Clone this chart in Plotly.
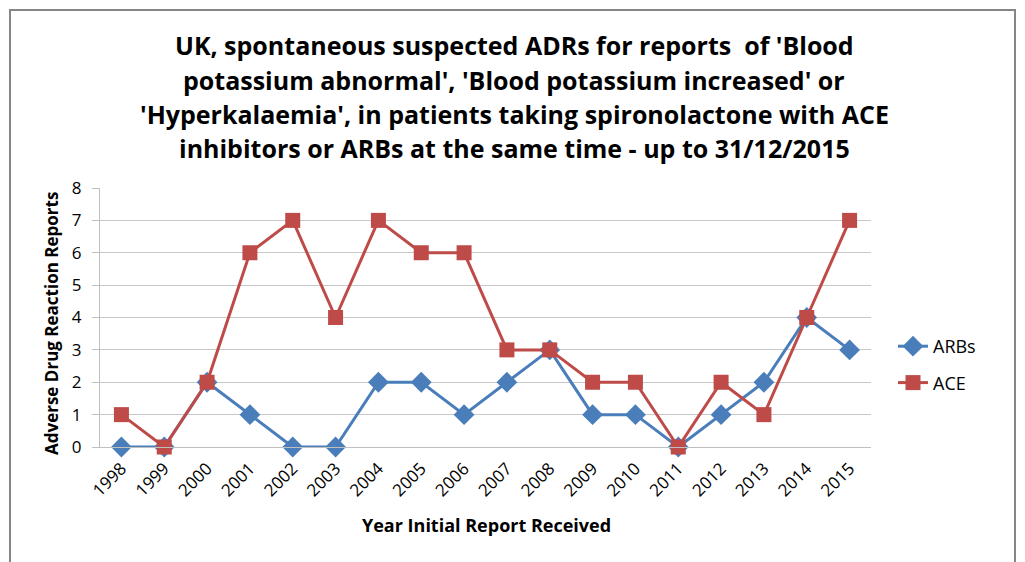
import plotly.graph_objects as go

years = [str(y) for y in range(1998, 2016)]
arbs = [0, 0, 2, 1, 0, 0, 2, 2, 1, 2, 3, 1, 1, 0, 1, 2, 4, 3]
ace = [1, 0, 2, 6, 7, 4, 7, 6, 6, 3, 3, 2, 2, 0, 2, 1, 4, 7]

title_lines = [
    "UK, spontaneous suspected ADRs for reports  of 'Blood",
    "potassium abnormal', 'Blood potassium increased' or",
    "'Hyperkalaemia', in patients taking spironolactone with ACE",
    "inhibitors or ARBs at the same time - up to 31/12/2015",
]

FONT = "Open Sans"
OFF = 8  # default page body margin
W, H = 1025 - OFF, 562 - OFF
L, R, T, B = 100 - OFF, 871 - OFF, 188 - OFF, 447 - OFF  # plot area in figure px


def px_x(x):
    return (x - OFF - L) / (R - L)


def px_y(y):
    return (B - (y - OFF)) / (B - T)


fig = go.Figure()
fig.add_trace(go.Scatter(
    x=years, y=arbs, name="ARBs", mode="lines+markers",
    line=dict(color="#4A7EBB", width=3),
    marker=dict(symbol="diamond", size=16, color="#4A7EBB"),
    cliponaxis=False, legendgroup="a",
))
fig.add_trace(go.Scatter(
    x=years, y=ace, name="ACE", mode="lines+markers",
    line=dict(color="#BE4B48", width=3),
    marker=dict(symbol="square", size=15, color="#BE4B48"),
    cliponaxis=False, legendgroup="b",
))

annotations = []
for line, ypx in zip(title_lines, [45, 80, 114, 148]):
    annotations.append(dict(
        text="<b>" + line + "</b>", x=px_x(514), y=px_y(ypx), xref="paper", yref="paper",
        xanchor="center", yanchor="middle", showarrow=False,
        font=dict(family=FONT, size=25, color="#000000"),
    ))
annotations.append(dict(
    text="<b>Year Initial Report Received</b>", x=px_x(486), y=px_y(525),
    xref="paper", yref="paper", xanchor="center", yanchor="middle", showarrow=False,
    font=dict(family=FONT, size=18, color="#000000"),
))
annotations.append(dict(
    text="<b>Adverse Drug Reaction Reports</b>", x=px_x(51), y=px_y(324),
    xref="paper", yref="paper", xanchor="center", yanchor="middle", showarrow=False,
    textangle=-90, font=dict(family=FONT, size=17, color="#000000"),
))

fig.update_layout(
    width=W, height=H,
    margin=dict(l=L, r=W - R, t=T, b=H - B, autoexpand=False),
    paper_bgcolor="white", plot_bgcolor="white",
    showlegend=True,
    legend=dict(x=px_x(893), y=px_y(328), xanchor="left", yanchor="top",
                font=dict(family=FONT, size=18, color="#000000"),
                tracegroupgap=10, bgcolor="rgba(0,0,0,0)"),
    annotations=annotations,
    shapes=[dict(type="rect", xref="paper", yref="paper",
                 x0=px_x(10), x1=px_x(1015), y0=px_y(600), y1=px_y(10),
                 line=dict(color="#868686", width=2), fillcolor="rgba(0,0,0,0)",
                 layer="below")],
    font=dict(family=FONT),
)
fig.update_xaxes(
    type="category", range=[-0.5, 17.5], tickangle=-45,
    showline=True, linecolor="#BFBFBF", linewidth=1, showgrid=False,
    tickfont=dict(family=FONT, size=17, color="#000000"), ticks="",
    ticklabelstandoff=4, fixedrange=True,
)
fig.update_yaxes(
    range=[0, 8], dtick=1, showline=True, linecolor="#BFBFBF", linewidth=1,
    showgrid=True, gridcolor="#C8C8C8", gridwidth=1, zeroline=False,
    ticks="outside", ticklen=7, tickcolor="#BFBFBF",
    tickfont=dict(family=FONT, size=17, color="#000000"),
    ticklabelstandoff=7, fixedrange=True,
)

fig.write_html("out.html")
